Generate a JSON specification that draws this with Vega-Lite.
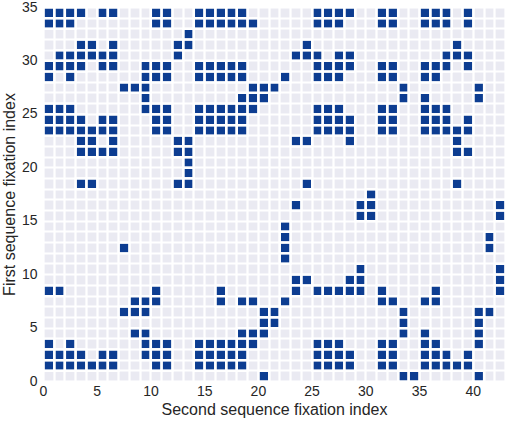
{
  "$schema": "https://vega.github.io/schema/vega-lite/v6.json",
  "width": 462,
  "height": 374,
  "autosize": "none",
  "padding": {"left": 43, "top": 7, "right": 0, "bottom": 41},
  "background": "white",
  "config": {
    "view": {"fill": "#eaeaf2", "stroke": null},
    "axis": {
      "domain": false, "ticks": false, "tickSize": 0,
      "grid": true, "gridColor": "white", "gridWidth": 2.2, "gridOpacity": 1,
      "labelFont": "Liberation Sans", "labelFontSize": 14, "labelColor": "#262626",
      "titleFont": "Liberation Sans", "titleFontSize": 16, "titleFontWeight": "normal", "titleColor": "#262626",
      "labelOverlap": false, "labelFlush": false
    }
  },
  "datasets": {
    "cells": [
      {"x":0,"y":34},{"x":1,"y":34},{"x":2,"y":34},{"x":3,"y":34},{"x":5,"y":34},{"x":6,"y":34},{"x":10,"y":34},{"x":11,"y":34},{"x":14,"y":34},{"x":15,"y":34},{"x":16,"y":34},{"x":17,"y":34},{"x":18,"y":34},{"x":25,"y":34},{"x":26,"y":34},{"x":27,"y":34},{"x":28,"y":34},{"x":31,"y":34},{"x":32,"y":34},{"x":35,"y":34},{"x":36,"y":34},{"x":37,"y":34},{"x":39,"y":34},
      {"x":0,"y":33},{"x":1,"y":33},{"x":2,"y":33},{"x":10,"y":33},{"x":11,"y":33},{"x":14,"y":33},{"x":15,"y":33},{"x":16,"y":33},{"x":17,"y":33},{"x":18,"y":33},{"x":19,"y":33},{"x":25,"y":33},{"x":26,"y":33},{"x":27,"y":33},{"x":31,"y":33},{"x":32,"y":33},{"x":35,"y":33},{"x":36,"y":33},{"x":37,"y":33},{"x":39,"y":33},
      {"x":13,"y":32},
      {"x":3,"y":31},{"x":4,"y":31},{"x":6,"y":31},{"x":12,"y":31},{"x":13,"y":31},{"x":24,"y":31},{"x":38,"y":31},
      {"x":1,"y":30},{"x":2,"y":30},{"x":3,"y":30},{"x":4,"y":30},{"x":5,"y":30},{"x":6,"y":30},{"x":12,"y":30},{"x":23,"y":30},{"x":24,"y":30},{"x":25,"y":30},{"x":27,"y":30},{"x":28,"y":30},{"x":37,"y":30},{"x":38,"y":30},{"x":39,"y":30},
      {"x":0,"y":29},{"x":1,"y":29},{"x":2,"y":29},{"x":3,"y":29},{"x":5,"y":29},{"x":6,"y":29},{"x":9,"y":29},{"x":10,"y":29},{"x":11,"y":29},{"x":14,"y":29},{"x":15,"y":29},{"x":16,"y":29},{"x":17,"y":29},{"x":18,"y":29},{"x":25,"y":29},{"x":26,"y":29},{"x":27,"y":29},{"x":28,"y":29},{"x":31,"y":29},{"x":32,"y":29},{"x":35,"y":29},{"x":36,"y":29},{"x":37,"y":29},{"x":39,"y":29},
      {"x":0,"y":28},{"x":2,"y":28},{"x":9,"y":28},{"x":10,"y":28},{"x":11,"y":28},{"x":14,"y":28},{"x":15,"y":28},{"x":16,"y":28},{"x":17,"y":28},{"x":18,"y":28},{"x":22,"y":28},{"x":25,"y":28},{"x":26,"y":28},{"x":27,"y":28},{"x":31,"y":28},{"x":32,"y":28},{"x":35,"y":28},{"x":36,"y":28},
      {"x":7,"y":27},{"x":8,"y":27},{"x":9,"y":27},{"x":19,"y":27},{"x":20,"y":27},{"x":21,"y":27},{"x":33,"y":27},{"x":40,"y":27},
      {"x":9,"y":26},{"x":18,"y":26},{"x":19,"y":26},{"x":20,"y":26},{"x":33,"y":26},{"x":35,"y":26},{"x":40,"y":26},
      {"x":0,"y":25},{"x":1,"y":25},{"x":2,"y":25},{"x":9,"y":25},{"x":10,"y":25},{"x":11,"y":25},{"x":14,"y":25},{"x":15,"y":25},{"x":16,"y":25},{"x":17,"y":25},{"x":18,"y":25},{"x":19,"y":25},{"x":25,"y":25},{"x":26,"y":25},{"x":27,"y":25},{"x":31,"y":25},{"x":32,"y":25},{"x":35,"y":25},{"x":36,"y":25},{"x":37,"y":25},
      {"x":0,"y":24},{"x":1,"y":24},{"x":2,"y":24},{"x":3,"y":24},{"x":5,"y":24},{"x":6,"y":24},{"x":10,"y":24},{"x":11,"y":24},{"x":14,"y":24},{"x":15,"y":24},{"x":16,"y":24},{"x":17,"y":24},{"x":18,"y":24},{"x":25,"y":24},{"x":26,"y":24},{"x":27,"y":24},{"x":28,"y":24},{"x":31,"y":24},{"x":32,"y":24},{"x":35,"y":24},{"x":36,"y":24},{"x":37,"y":24},{"x":39,"y":24},
      {"x":0,"y":23},{"x":1,"y":23},{"x":2,"y":23},{"x":3,"y":23},{"x":4,"y":23},{"x":5,"y":23},{"x":6,"y":23},{"x":10,"y":23},{"x":11,"y":23},{"x":14,"y":23},{"x":15,"y":23},{"x":16,"y":23},{"x":17,"y":23},{"x":18,"y":23},{"x":25,"y":23},{"x":26,"y":23},{"x":27,"y":23},{"x":28,"y":23},{"x":31,"y":23},{"x":32,"y":23},{"x":35,"y":23},{"x":36,"y":23},{"x":37,"y":23},{"x":38,"y":23},{"x":39,"y":23},
      {"x":3,"y":22},{"x":4,"y":22},{"x":6,"y":22},{"x":12,"y":22},{"x":13,"y":22},{"x":23,"y":22},{"x":24,"y":22},{"x":28,"y":22},{"x":38,"y":22},
      {"x":3,"y":21},{"x":4,"y":21},{"x":5,"y":21},{"x":6,"y":21},{"x":12,"y":21},{"x":13,"y":21},{"x":38,"y":21},{"x":39,"y":21},
      {"x":13,"y":20},
      {"x":13,"y":19},
      {"x":3,"y":18},{"x":4,"y":18},{"x":12,"y":18},{"x":13,"y":18},{"x":24,"y":18},{"x":38,"y":18},
      {"x":30,"y":17},
      {"x":23,"y":16},{"x":29,"y":16},{"x":30,"y":16},{"x":42,"y":16},
      {"x":29,"y":15},{"x":30,"y":15},{"x":42,"y":15},
      {"x":22,"y":14},
      {"x":22,"y":13},{"x":41,"y":13},
      {"x":7,"y":12},{"x":22,"y":12},{"x":41,"y":12},
      {"x":22,"y":11},
      {"x":29,"y":10},{"x":42,"y":10},
      {"x":23,"y":9},{"x":24,"y":9},{"x":28,"y":9},{"x":29,"y":9},{"x":42,"y":9},
      {"x":0,"y":8},{"x":1,"y":8},{"x":10,"y":8},{"x":16,"y":8},{"x":23,"y":8},{"x":25,"y":8},{"x":26,"y":8},{"x":27,"y":8},{"x":28,"y":8},{"x":29,"y":8},{"x":31,"y":8},{"x":36,"y":8},{"x":42,"y":8},
      {"x":8,"y":7},{"x":9,"y":7},{"x":10,"y":7},{"x":16,"y":7},{"x":18,"y":7},{"x":19,"y":7},{"x":22,"y":7},{"x":31,"y":7},{"x":32,"y":7},{"x":35,"y":7},{"x":36,"y":7},
      {"x":7,"y":6},{"x":8,"y":6},{"x":9,"y":6},{"x":20,"y":6},{"x":21,"y":6},{"x":33,"y":6},{"x":40,"y":6},{"x":41,"y":6},
      {"x":20,"y":5},{"x":21,"y":5},{"x":33,"y":5},{"x":40,"y":5},
      {"x":8,"y":4},{"x":9,"y":4},{"x":18,"y":4},{"x":19,"y":4},{"x":20,"y":4},{"x":33,"y":4},{"x":35,"y":4},{"x":40,"y":4},
      {"x":0,"y":3},{"x":2,"y":3},{"x":9,"y":3},{"x":10,"y":3},{"x":11,"y":3},{"x":14,"y":3},{"x":15,"y":3},{"x":16,"y":3},{"x":17,"y":3},{"x":18,"y":3},{"x":19,"y":3},{"x":25,"y":3},{"x":26,"y":3},{"x":27,"y":3},{"x":31,"y":3},{"x":32,"y":3},{"x":35,"y":3},{"x":36,"y":3},{"x":40,"y":3},
      {"x":0,"y":2},{"x":1,"y":2},{"x":2,"y":2},{"x":3,"y":2},{"x":5,"y":2},{"x":6,"y":2},{"x":9,"y":2},{"x":10,"y":2},{"x":11,"y":2},{"x":14,"y":2},{"x":15,"y":2},{"x":16,"y":2},{"x":17,"y":2},{"x":18,"y":2},{"x":25,"y":2},{"x":26,"y":2},{"x":27,"y":2},{"x":28,"y":2},{"x":31,"y":2},{"x":32,"y":2},{"x":35,"y":2},{"x":36,"y":2},{"x":37,"y":2},{"x":39,"y":2},
      {"x":0,"y":1},{"x":1,"y":1},{"x":2,"y":1},{"x":3,"y":1},{"x":4,"y":1},{"x":5,"y":1},{"x":6,"y":1},{"x":10,"y":1},{"x":11,"y":1},{"x":14,"y":1},{"x":15,"y":1},{"x":16,"y":1},{"x":17,"y":1},{"x":18,"y":1},{"x":25,"y":1},{"x":26,"y":1},{"x":27,"y":1},{"x":28,"y":1},{"x":31,"y":1},{"x":32,"y":1},{"x":35,"y":1},{"x":36,"y":1},{"x":37,"y":1},{"x":38,"y":1},{"x":39,"y":1},
      {"x":20,"y":0},{"x":33,"y":0},{"x":34,"y":0},{"x":40,"y":0}
    ]
  },
  "data": {"name": "cells"},
  "mark": {"type": "rect", "color": "#0d3d91", "stroke": "white", "strokeWidth": 2.2},
  "encoding": {
    "x": {
      "field": "x", "type": "quantitative",
      "bin": {"step": 1, "extent": [0, 43]},
      "scale": {"domain": [0, 43], "nice": false, "zero": false},
      "axis": {
        "title": "Second sequence fixation index",
        "values": [0,1,2,3,4,5,6,7,8,9,10,11,12,13,14,15,16,17,18,19,20,21,22,23,24,25,26,27,28,29,30,31,32,33,34,35,36,37,38,39,40,41,42,43],
        "labelExpr": "datum.value % 5 === 0 && datum.value <= 40 ? datum.value + '' : ''",
        "labelPadding": 3, "titlePadding": 3
      }
    },
    "y": {
      "field": "y", "type": "quantitative",
      "bin": {"step": 1, "extent": [0, 35]},
      "scale": {"domain": [0, 35], "nice": false, "zero": false},
      "axis": {
        "title": "First sequence fixation index",
        "values": [0,1,2,3,4,5,6,7,8,9,10,11,12,13,14,15,16,17,18,19,20,21,22,23,24,25,26,27,28,29,30,31,32,33,34,35],
        "labelExpr": "datum.value % 5 === 0 ? datum.value + '' : ''",
        "labelPadding": 6, "titlePadding": 4
      }
    }
  }
}
